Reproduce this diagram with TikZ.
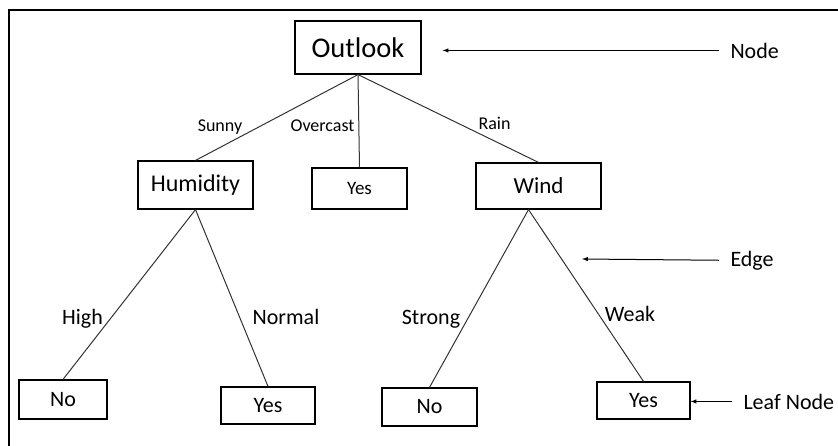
\documentclass[tikz,border=0pt]{standalone}
\usepackage{fontspec}
\setmainfont{Carlito}
\usetikzlibrary{calc}

\begin{document}
\begin{tikzpicture}[x=1pt, y=-1pt, >=latex, line width=1pt,
		box/.style={draw, line width=1.2pt, inner sep=0pt, font=\fontsize{22}{26}\selectfont},
		lbl/.style={inner sep=0pt, anchor=base, font=\fontsize{22}{26}\selectfont},
		toplbl/.style={lbl, font=\fontsize{18}{22}\selectfont},
		note/.style={inner xsep=11pt, inner ysep=0pt, anchor=base west,
			font=\fontsize{22}{26}\selectfont},
		branch/.style={black!80}]
	\useasboundingbox (0,0) rectangle (838,445);
	\draw[line width=2.5pt] (9,460) -- (9,10) -- (850,10);
	% nodes of the tree
	\node[box, minimum width=126, minimum height=53, font=\fontsize{28.5}{32}\selectfont] (outlook) at (358,47.5) {Outlook};
	\node[box, minimum width=115, minimum height=48, font=\fontsize{24}{28}\selectfont] (humid) at (195.5,185) {Humidity};
	\node[box, minimum width=95, minimum height=41, font=\fontsize{19}{23}\selectfont] (yesmid) at (359.5,188.5) {Yes};
	\node[box, minimum width=125, minimum height=46, font=\fontsize{23}{27}\selectfont] (wind) at (538.5,186) {Wind};
	\node[box, minimum width=88, minimum height=39] (nol) at (63,399.5) {No};
	\node[box, minimum width=94, minimum height=37] (yesl) at (268,405.5) {Yes};
	\node[box, minimum width=95, minimum height=38] (nor) at (429.5,407) {No};
	\node[box, minimum width=93, minimum height=37] (yesr) at (643.5,400.5) {Yes};
	% branches
	\draw[branch] (outlook.south) -- (humid.north);
	\draw[branch] (outlook.south) -- (yesmid.north);
	\draw[branch] (outlook.south) -- (wind.north);
	\draw[branch] (humid.south) -- (nol.north);
	\draw[branch] (humid.south) -- (yesl.north);
	\draw[branch] ($(wind.south)+(-10,0)$) -- (nor.north);
	\draw[branch] ($(wind.south)+(-10,0)$) -- (yesr.north);
	\node[toplbl] (sunny) at (220,131) {Sunny};
	\node[toplbl] (overcast) at (322.5,131) {Overcast};
	\node[toplbl] (rain) at (494.5,129) {Rain};
	\node[lbl] (high) at (82.5,324) {High};
	\node[lbl] (normal) at (286,324) {Normal};
	\node[lbl] (strong) at (431,324) {Strong};
	\node[lbl] (weak) at (630,321) {Weak};
	% notes on the right
	\node[note] (nodetxt) at (719,58) {Node};
	\node[note] (edgetxt) at (719,266) {Edge};
	\node[note] (leaftxt) at (732,409) {Leaf Node};
	\coordinate (edgetip) at (582,259);
	\draw[->, shorten >=21pt] (nodetxt.west) -- (nodetxt.west -| outlook.east);
	\draw[->] (edgetxt.west) -- (edgetip);
	\draw[->] (leaftxt.west) -- (leaftxt.west -| yesr.east);
\end{tikzpicture}
\end{document}
